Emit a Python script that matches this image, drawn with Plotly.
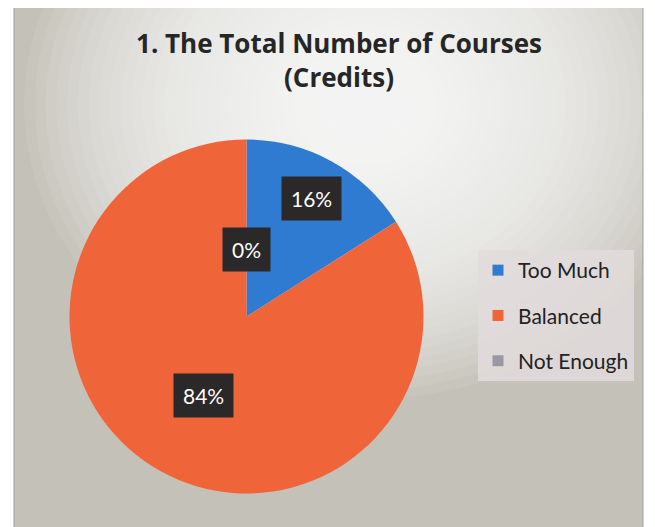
import math
import plotly.graph_objects as go

# ---- data ----
categories = ["Too Much", "Balanced", "Not Enough"]
values = [16, 84, 0]
colors = ["#2e7bd1", "#f0643a", "#9a98a4"]
label_radius_frac = [0.76, 0.51, 0.38]

W, H = 655, 527
OX, OY = 8, 8  # page body margin offset of the plot div


def px(x):
    return (x - OX) / W


def py(y):
    return 1 - (y - OY) / H


fig = go.Figure()

# pie domain (square in pixels)
cx, cy, R = 246.5, 316.5, 177
dom_x = [px(cx - R), px(cx + R)]
dom_y = [py(cy + R), py(cy - R)]

fig.add_trace(go.Pie(
    labels=categories, values=values, sort=False, direction="clockwise",
    rotation=0, marker=dict(colors=colors, line=dict(width=0)),
    textinfo="none", hoverinfo="skip", showlegend=False,
    domain=dict(x=dom_x, y=dom_y),
))

# legend entries (dummy traces so spacing can be controlled)
for i, (c, col) in enumerate(zip(categories, colors)):
    fig.add_trace(go.Scatter(
        x=[None], y=[None], mode="markers", name=c,
        marker=dict(symbol="square", size=11, color=col),
        legendgroup=f"g{i}", showlegend=True, hoverinfo="skip",
    ))

# background: frame + radial glow
shapes = [dict(type="rect", xref="paper", yref="paper",
               x0=px(14), x1=px(643), y0=py(540), y1=py(0),
               fillcolor="#c4c1b8", line=dict(width=0),
               layer="below")]
gx, gy = 365, 105
n = 30
for k in range(n):
    r = 310 - k * 9.8
    shapes.append(dict(type="circle", xref="paper", yref="paper",
                       x0=px(gx - r * 1.1), x1=px(gx + r * 1.1),
                       y0=py(gy + r * 0.95), y1=py(gy - r * 0.95),
                       fillcolor="#ffffff", opacity=0.075, line=dict(width=0),
                       layer="below"))
# white margins outside the frame
shapes.append(dict(type="rect", xref="paper", yref="paper",
                   x0=px(643), x1=px(700), y0=py(560), y1=py(0),
                   fillcolor="#ffffff", line=dict(width=0), layer="below"))
shapes.append(dict(type="rect", xref="paper", yref="paper",
                   x0=px(0), x1=px(14), y0=py(560), y1=py(0),
                   fillcolor="#ffffff", line=dict(width=0), layer="below"))
shapes.append(dict(type="line", xref="paper", yref="paper",
                   x0=px(14), x1=px(14), y0=py(560), y1=py(0),
                   line=dict(color="#a09e9c", width=1), layer="below"))
shapes.append(dict(type="line", xref="paper", yref="paper",
                   x0=px(643), x1=px(643), y0=py(560), y1=py(0),
                   line=dict(color="#a09e9c", width=1), layer="below"))

# data labels computed from slice angles
annotations = []
total = sum(values)
cum = 0
for v, f in zip(values, label_radius_frac):
    mid = (cum + v / 2) / total * 2 * math.pi
    cum += v
    lx = cx + f * R * math.sin(mid)
    ly = cy - f * R * math.cos(mid)
    annotations.append(dict(
        x=px(lx), y=py(ly), xref="paper", yref="paper",
        xanchor="center", yanchor="middle",
        text=f"{round(v / total * 100)}%", showarrow=False,
        font=dict(family="Lato, Open Sans, sans-serif", size=21, color="#ffffff"),
        bgcolor="#2a2828", borderpad=9,
    ))

fig.update_layout(
    width=W, height=H,
    margin=dict(l=0, r=0, t=0, b=0),
    paper_bgcolor="#ffffff", plot_bgcolor="rgba(0,0,0,0)",
    xaxis=dict(visible=False), yaxis=dict(visible=False),
    title=dict(text="<b>1. The Total Number of Courses<br>(Credits)</b>",
               x=px(339), xanchor="center", y=py(53), yanchor="middle",
               font=dict(family="Open Sans, Lato, sans-serif", size=26, color="#262626")),
    legend=dict(x=px(478), y=py(250), xanchor="left", yanchor="top",
                bgcolor="rgba(226,220,220,0.85)", borderwidth=0,
                font=dict(family="Lato, Open Sans, sans-serif", size=21, color="#222222"),
                tracegroupgap=15, itemwidth=30),
    shapes=shapes,
    annotations=annotations,
)

fig.write_html("out.html")
